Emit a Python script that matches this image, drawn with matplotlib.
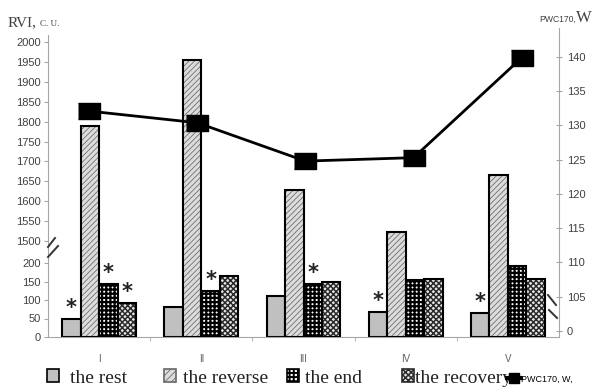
import numpy as np
import matplotlib
matplotlib.use("Agg")
import matplotlib.pyplot as plt
from matplotlib.patches import Patch
from matplotlib.lines import Line2D
from matplotlib.ticker import FixedLocator, FixedFormatter

# ---------------- data ----------------
categories = ["I", "II", "III", "IV", "V"]
rest = [48, 81, 111, 68, 65]
reverse = [1790, 1955, 1628, 1522, 1667]
end = [143, 124, 143, 154, 192]
recovery = [92, 165, 149, 157, 157]
pwc170 = [132.1, 130.4, 124.8, 125.3, 139.9]
series_names = ["the rest", "the reverse", "the end", "the recovery"]
line_name = "PWC170, W,"
left_ticks = [0, 50, 100, 150, 200, 1500, 1550, 1600, 1650, 1700, 1750, 1800, 1850, 1900, 1950, 2000]
right_ticks = [100, 105, 110, 115, 120, 125, 130, 135, 140]
right_tick_labels = ["0", "105", "110", "115", "120", "125", "130", "135", "140"]
# stars: (series index, category index)
stars = [(0, 0), (2, 0), (3, 0), (2, 1), (2, 2), (0, 3), (0, 4)]

plt.rcParams['hatch.linewidth'] = 0.6


def set_hlw(p, val):
    if hasattr(p, "set_hatch_linewidth"):
        p.set_hatch_linewidth(val)
    else:
        p._hatch_linewidth = val


W, H = 601, 390
fig = plt.figure(figsize=(W / 100, H / 100), dpi=100)
fig.patch.set_facecolor("white")


def px2fig(x, y):
    return x / W, 1 - y / H


ax_l, ax_r, ax_b, ax_t = 48, 559, 337, 28
rect = [ax_l / W, 1 - ax_b / H, (ax_r - ax_l) / W, (ax_b - ax_t) / H]
ax = fig.add_axes(rect)

# broken scale: pixel-like transformed units
bv = [-1e5, 0, 200, 1500, 1e5]
bt = [-1e5 * 0.37, 0, 74, 96, 96 + (1e5 - 1500) * 0.398]


def fwd(v):
    return np.interp(v, bv, bt)


def inv(t):
    return np.interp(t, bt, bv)


ax.set_yscale("function", functions=(fwd, inv))
ax.set_ylim(0, float(inv(309)))
ax.set_xlim(-0.5, 4.5)

x = np.arange(len(categories))
w = 0.181
offs = [-1.5 * w, -0.5 * w, 0.5 * w, 1.5 * w]
lw = 1.5

REV = dict(face="#dcdcdc", hcol="#666666", hatch="//////", hlw=0.55)
END = dict(face="white", hcol="black", hatch="++++", hlw=1.6)
REC = dict(face="#e8e8e8", hcol="#2a2a2a", hatch="xxxxxx", hlw=1.1)

ax.bar(x + offs[0], rest, w, color="#c0c0c0", edgecolor="black", linewidth=lw, zorder=2)
for vals_, st, off in [(reverse, REV, offs[1]), (end, END, offs[2]), (recovery, REC, offs[3])]:
    bc = ax.bar(x + off, vals_, w, color=st["face"], edgecolor=st["hcol"], hatch=st["hatch"],
                linewidth=0, zorder=2)
    for p in bc:
        set_hlw(p, st["hlw"])
    ax.bar(x + off, vals_, w, fill=False, edgecolor="black", linewidth=lw, zorder=3)

vals = [rest, reverse, end, recovery]
for si, ci in stars:
    ax.annotate("*", xy=(x[ci] + offs[si], vals[si][ci]), xytext=(0, 3.5), textcoords="offset points",
                ha="center", va="baseline", fontsize=15, fontweight="bold", color="#222222", zorder=5)

gray = "#a6a6a6"
for s in ["top", "right"]:
    ax.spines[s].set_visible(False)
ax.spines["left"].set_color(gray)
ax.spines["bottom"].set_color(gray)
ax.spines["left"].set_bounds(0, float(inv(302)))
ax.yaxis.set_major_locator(FixedLocator(left_ticks))
ax.yaxis.set_major_formatter(FixedFormatter([str(t) for t in left_ticks]))
ax.yaxis.set_minor_locator(FixedLocator([]))
ax.tick_params(axis="y", direction="out", length=3, color=gray, labelcolor="#404040",
               labelsize=8, pad=2)
for lab in ax.get_yticklabels():
    lab.set_family("Liberation Sans")
ax.set_xticks(x)
ax.set_xticklabels(categories, fontsize=7, color="#606060", family="Liberation Sans")
ax.set_xticks([0.5, 1.5, 2.5, 3.5], minor=True)
ax.tick_params(axis="x", which="major", length=0, pad=12)
ax.tick_params(axis="x", which="minor", length=3, color=gray, direction="out")

# secondary axis with its own horizontal mapping for the line
ax2 = fig.add_axes(rect)
ax2.patch.set_visible(False)
ax2.set_xlim(-0.379, 4.344)
ax2.set_ylim(99.12, 144.23)
for s in ["top", "left", "bottom"]:
    ax2.spines[s].set_visible(False)
ax2.spines["right"].set_color(gray)
ax2.xaxis.set_visible(False)
ax2.yaxis.tick_right()
ax2.yaxis.set_major_locator(FixedLocator(right_ticks))
ax2.yaxis.set_major_formatter(FixedFormatter(right_tick_labels))
ax2.tick_params(axis="y", direction="inout", length=5, color=gray, labelcolor="#404040",
                labelsize=8, pad=3)
for lab in ax2.get_yticklabels():
    lab.set_family("Liberation Sans")
mverts = [(-1.4, -1), (1.4, -1), (1.4, 1), (-1.4, 1)]
ax2.plot(x, pwc170, color="black", linewidth=2, marker=mverts, markersize=16,
         markerfacecolor="black", markeredgecolor="black", zorder=4)


# break marks
def brk(p1, p2):
    f1 = px2fig(*p1)
    f2 = px2fig(*p2)
    fig.add_artist(Line2D([f1[0], f2[0]], [f1[1], f2[1]], color="#333333", linewidth=1.4))


brk((48, 247), (55, 238))
brk((48, 257), (58, 246))
brk((548, 295), (556, 305))
brk((549, 310), (557, 318))

# axis titles
fig.text(*px2fig(8, 26), "RVI,", family="Liberation Serif", fontsize=11, color="#404040", va="baseline")
fig.text(*px2fig(40, 26), "C. U.", family="Liberation Serif", fontsize=6.5, color="#404040", va="baseline")
fig.text(*px2fig(539, 22), "PWC170,", family="Liberation Sans", fontsize=6.2, color="#404040", va="baseline")
fig.text(*px2fig(576, 22), "W", family="Liberation Serif", fontsize=12, color="#404040", va="baseline")

# legend items
fs = 14
handles = [
    Patch(facecolor="#c0c0c0", edgecolor="black", linewidth=1.2),
    Patch(facecolor=REV["face"], edgecolor=REV["hcol"], hatch="/////", linewidth=1.2),
    Patch(facecolor=END["face"], edgecolor=END["hcol"], hatch="++++", linewidth=1.2),
    Patch(facecolor=REC["face"], edgecolor=REC["hcol"], hatch="xxxxxx", linewidth=1.2),
]
hlws = [0.6, REV["hlw"], 1.4, REC["hlw"]]
leg_x = [47, 164, 287, 402]
pads = [0.55, 0.35, 0.3, 0.05]
for h, name, lx, pd, hl in zip(handles, series_names, leg_x, pads, hlws):
    set_hlw(h, hl)
    lg = fig.legend([h], [name], loc="center left", bbox_to_anchor=px2fig(lx, 378),
                    frameon=False, borderpad=0, borderaxespad=0, handlelength=0.62,
                    handleheight=0.62, handletextpad=pd,
                    prop={"family": "Liberation Serif", "size": fs})
    lg.get_texts()[0].set_color("#222222")
    for lh_ in lg.legend_handles:
        set_hlw(lh_, hl)
lh = Line2D([], [], color="black", linewidth=3, marker="s", markersize=7)
lg = fig.legend([lh], [line_name], loc="center left", bbox_to_anchor=px2fig(507, 379),
                frameon=False, borderpad=0, borderaxespad=0, handlelength=1.5,
                handletextpad=0.1, prop={"family": "Liberation Sans", "size": 6.5})

fig.savefig("out.png", dpi=100)
